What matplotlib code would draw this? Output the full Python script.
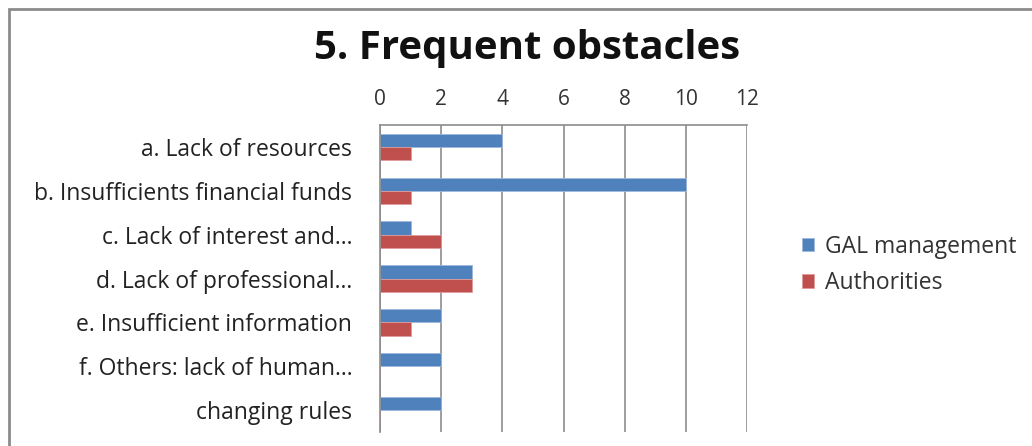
import matplotlib.pyplot as plt
from matplotlib.patches import Rectangle

# Data
categories = ['a. Lack of resources', 'b. Insufficients financial funds',
              'c. Lack of interest and…', 'd. Lack of professional…',
              'e. Insufficient information', 'f. Others: lack of human…',
              'changing rules']
gal = [4, 10, 1, 3, 2, 2, 2]
authorities = [1, 1, 2, 3, 1, 0, 0]
xticks = [0, 2, 4, 6, 8, 10, 12]

plt.rcParams['font.family'] = ['Open Sans', 'DejaVu Sans']

fig = plt.figure(figsize=(10.32, 4.46), dpi=100)
# outer chart frame
fig.patches.append(Rectangle((9 / 1032, -0.05), 1.2, 1 - 9 / 446 + 0.05,
                             transform=fig.transFigure, fill=False,
                             edgecolor='#8c8c8c', linewidth=2))

ax = fig.add_axes([380 / 1032, 1 - 432 / 446, 367 / 1032, 307 / 446])

ypos = list(range(len(categories)))
h = 0.3
ax.barh([y - h / 2 for y in ypos], gal, height=h, color='#4F81BD',
        edgecolor='#9db8dc', linewidth=0.6, label='GAL management')
ax.barh([y + h / 2 for y in ypos], authorities, height=h, color='#C0504D',
        edgecolor='#dc9c9b', linewidth=0.6, label='Authorities')

ax.set_xlim(0, 12)
ax.set_ylim(len(categories) - 0.5, -0.5)
ax.set_xticks(xticks)
ax.xaxis.tick_top()
ax.tick_params(axis='x', labelsize=15, length=0, pad=11, colors='#333333')
ax.set_yticks(ypos)
ax.set_yticklabels(categories)
ax.tick_params(axis='y', labelsize=16.5, length=0, pad=20, colors='#222222')
ax.grid(axis='x', color='#8c8c8c', linewidth=1.2)
ax.set_axisbelow(True)
for side in ['right', 'bottom']:
    ax.spines[side].set_visible(False)
ax.spines['left'].set_color('#8c8c8c')
ax.spines['top'].set_color('#8c8c8c')
ax.spines['left'].set_linewidth(1.2)
ax.spines['top'].set_linewidth(1.2)

fig.text(527 / 1032, 1 - 48 / 446, '5. Frequent obstacles', ha='center',
         va='center', fontsize=29, fontweight='bold', color='#111111')

fig.legend(loc='upper left', bbox_to_anchor=(781 / 1032, 1 - 214 / 446),
           frameon=False, fontsize=16.5, handlelength=0.55, handleheight=0.55,
           handletextpad=0.45, labelspacing=0.55, labelcolor='#333333')

plt.savefig('out.png')
